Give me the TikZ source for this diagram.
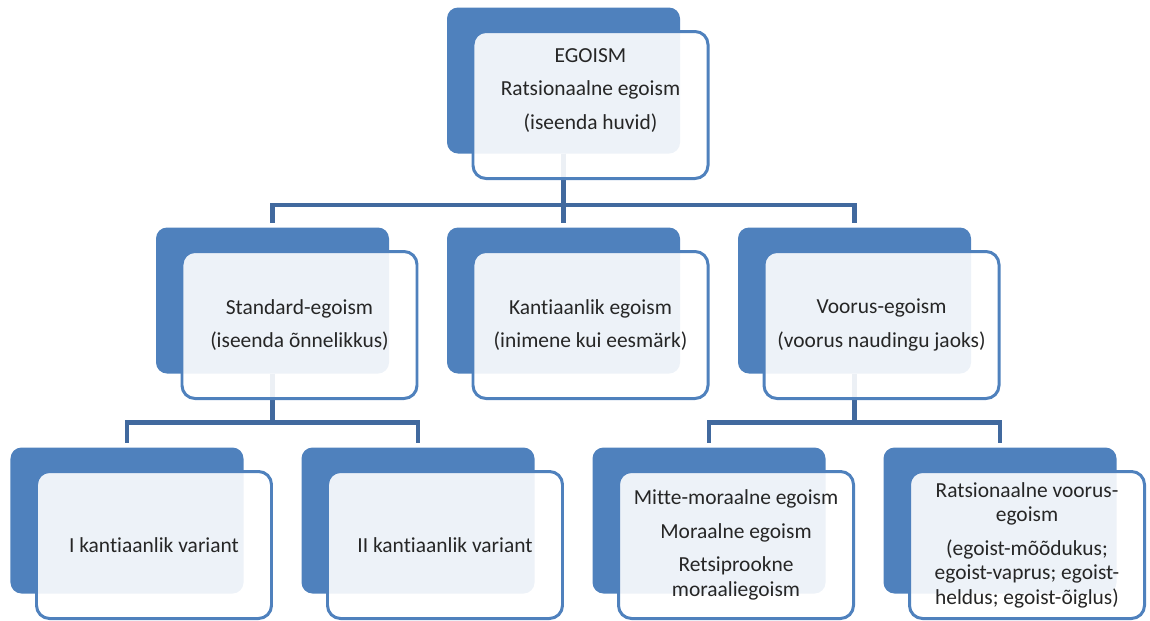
\documentclass[tikz,border=0pt]{standalone}
\usepackage{fontspec}
\setmainfont{Carlito}[Ligatures=NoCommon]
\usepackage{xcolor}
\usepackage{tikz}
\usetikzlibrary{positioning}
\definecolor{boxblue}{RGB}{79, 129, 189}
\definecolor{linkblue}{RGB}{65, 105, 158}
\definecolor{textgray}{RGB}{38, 38, 38}

\begin{document}
\begin{tikzpicture}[
        backbox/.style={rectangle, fill=boxblue, rounded corners=0.22cm, minimum width=4.66cm, minimum height=2.92cm, inner sep=0pt, outer sep=0pt},
        frontbox/.style={rectangle, draw=boxblue, line width=1.7pt, fill=white, fill opacity=0.9, text opacity=1, text=textgray, rounded corners=0.26cm, minimum width=4.7cm, minimum height=2.94cm, align=center, font=\fontsize{12.2}{14}\selectfont, outer sep=0pt},
        link/.style={draw=linkblue, line width=2.8pt, shorten >=0.1cm}
    ]
        \useasboundingbox (0,0) rectangle (23,-12.4);

        % back boxes
        \node (egoism) [backbox] at (11.27,-1.61) {};
        \node (kantian) [backbox, below=1.48cm of egoism] {};
        \node (standard) [backbox, left=1.16cm of kantian] {};
        \node (virtue) [backbox, right=1.16cm of kantian] {};
        \node (kant1) [backbox, below left=1.48cm and 0.58cm of standard.south] {};
        \node (kant2) [backbox, right=1.16cm of kant1] {};
        \node (moral) [backbox, right=1.16cm of kant2] {};
        \node (rational) [backbox, right=1.16cm of moral] {};

        \draw[link] (egoism.south) -- ++(0,-1.03) -| (standard.north);
        \draw[link] (egoism.south) -- (kantian.north);
        \draw[link] (egoism.south) -- ++(0,-1.03) -| (virtue.north);
        \draw[link] (standard.south) -- ++(0,-0.98) -| (kant1.north);
        \draw[link] (standard.south) -- ++(0,-0.98) -| (kant2.north);
        \draw[link] (virtue.south) -- ++(0,-0.98) -| (moral.north);
        \draw[link] (virtue.south) -- ++(0,-0.98) -| (rational.north);

        % front boxes
        \node (egoismcard) [frontbox] at ([shift={(0.54,-0.49)}]egoism.center) {};
        \node (egoismtext) [text=textgray, align=center, font=\fontsize{12.2}{14}\selectfont] at ([yshift=0.29cm]egoismcard.center) {
            EGOISM\\[5pt] Ratsionaalne egoism\\[5pt] (iseenda huvid)
        };
        \node (standardcard) [frontbox] at ([shift={(0.54,-0.49)}]standard.center) {
            Standard-egoism\\[5pt] (iseenda õnnelikkus)
        };
        \node (kantiancard) [frontbox] at ([shift={(0.54,-0.49)}]kantian.center) {
            Kantiaanlik egoism\\[5pt] (inimene kui eesmärk)
        };
        \node (virtuecard) [frontbox] at ([shift={(0.54,-0.49)}]virtue.center) {
            Voorus-egoism\\[5pt] (voorus naudingu jaoks)
        };
        \node (kant1card) [frontbox] at ([shift={(0.54,-0.49)}]kant1.center) {I kantiaanlik variant};
        \node (kant2card) [frontbox] at ([shift={(0.54,-0.49)}]kant2.center) {II kantiaanlik variant};
        \node (moralcard) [frontbox] at ([shift={(0.54,-0.49)}]moral.center) {
            Mitte-moraalne egoism\\[5pt] Moraalne egoism\\[5pt] Retsiprookne\\ moraaliegoism
        };
        \node (rationalcard) [frontbox] at ([shift={(0.54,-0.49)}]rational.center) {
            Ratsionaalne voorus-\\ egoism\\[5pt] (egoist-mõõdukus;\\ egoist-vaprus; egoist-\\ heldus; egoist-õiglus)
        };
    \end{tikzpicture}
\end{document}
